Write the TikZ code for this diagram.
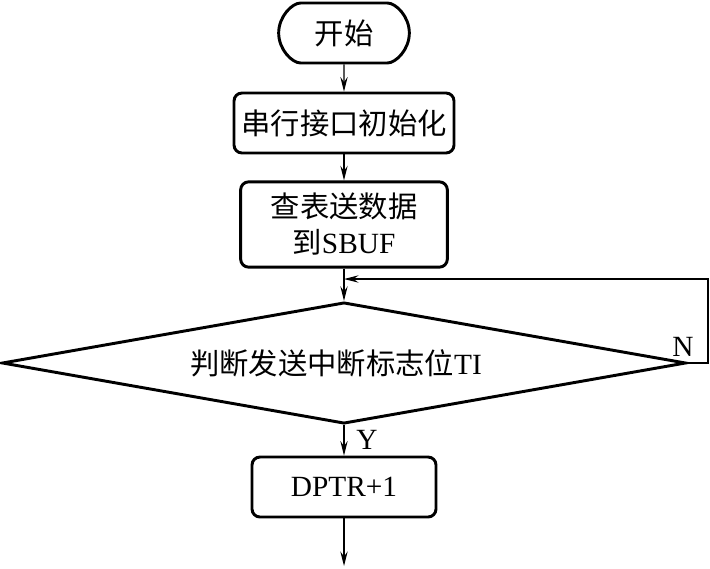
\documentclass[tikz,border=0pt]{standalone}
\usepackage{fontspec}
\setmainfont{Liberation Serif}
\newfontfamily\cjk{Noto Sans CJK SC}
\usetikzlibrary{shapes.geometric,shapes.misc,arrows.meta}
\begin{document}
\begin{tikzpicture}[x=0.75pt, y=0.75pt, line width=2.2pt, font=\fontsize{22}{27}\selectfont,
  box node/.style={draw, rounded corners=6pt, inner sep=2pt, align=center},
  flow/.style={line width=0.9pt, -{Stealth[length=11pt,width=5.5pt,inset=4pt]}}]
\useasboundingbox (0,0) rectangle (710,-568);
\node[box node, rounded rectangle, minimum width=102pt, minimum height=45pt] (start) at (344,-33) {\cjk 开始};
\node[box node, minimum width=165pt, minimum height=45pt] (init) at (344,-123) {\cjk 串行接口初始化};
\node[box node, minimum width=155pt, minimum height=64pt] (send) at (344,-224.5) {\cjk 查表送数据\\{\cjk 到}SBUF};
\node[draw, diamond, aspect=5.65, inner sep=0pt, minimum width=513pt, minimum height=91pt] (check) at (344,-363) {};
\node (checktext) at (336,-363) {\cjk 判断发送中断标志位\rmfamily TI};
\node[box node, minimum width=138pt, minimum height=45pt] (inc) at (344,-487) {DPTR+1};
\coordinate (loopa) at (708,-363);
\coordinate (loopb) at (708,-279);
\coordinate (loopc) at (344,-279);
\coordinate (out) at (344,-566);
\draw[flow] (start) -- (init);
\draw[flow] (init) -- (send);
\draw[flow] (send) -- (check);
\draw[flow] (check.east) -- (loopa) -- (loopb) -- (loopc);
\draw[flow] (check) -- (inc);
\draw[flow] (inc) -- (out);
\node (nlabel) at (683,-347) {N};
\node (ylabel) at (367,-440) {Y};
\end{tikzpicture}
\end{document}
